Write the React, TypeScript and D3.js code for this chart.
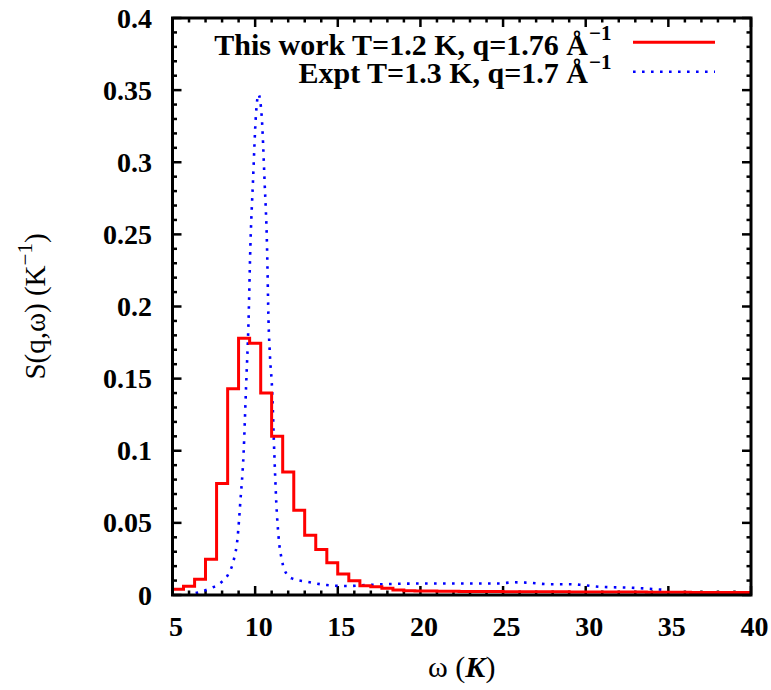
import React from "react";
import * as d3 from "d3";

// ---- data ----
const workOmega = [5.33, 6.0, 6.67, 7.33, 8.0, 8.67, 9.33, 10.0, 10.67, 11.33, 12.0, 12.67, 13.33, 14.0, 14.67, 15.33, 16.0, 16.67, 17.33, 18.0, 18.67, 19.33, 20.0, 20.67, 21.33, 22.0, 22.67, 23.33, 24.0, 24.67, 25.33, 26.0, 26.67, 27.33, 28.0, 28.67, 29.33, 30.0, 30.67, 31.33, 32.0, 32.67, 33.33, 34.0, 34.67, 35.33, 36.0, 36.67, 37.33, 38.0, 38.67, 39.33, 40.0];
const workS = [0.004, 0.006, 0.011, 0.0247, 0.0773, 0.143, 0.178, 0.1746, 0.14, 0.11, 0.0853, 0.0588, 0.0415, 0.0316, 0.0224, 0.0145, 0.0099, 0.0064, 0.0057, 0.0046, 0.0035, 0.003,
  0.0028, 0.0027, 0.0026, 0.0026, 0.0025, 0.0025, 0.0024, 0.0024, 0.0023, 0.0023, 0.0023, 0.0022, 0.0022, 0.0022, 0.0021, 0.0021, 0.0021, 0.002, 0.002, 0.002, 0.002, 0.0019, 0.0019, 0.0019, 0.0019, 0.0018, 0.0018, 0.0018, 0.0018, 0.0018, 0.0018];
const binWidth = 0.6667;

const exptOmega = [6.4, 6.7, 7.3, 7.9, 8.4, 8.7, 8.94, 9.1, 9.3, 9.45, 9.6, 9.71, 9.87, 10.05, 10.2, 10.39, 10.57, 10.72, 10.81, 10.9, 11.02, 11.16, 11.28, 11.42, 11.62, 11.88, 12.22, 13.13, 14.34, 15.54, 16.75, 18.76, 20.8, 22.8, 24.8, 25.6, 26.5, 27.8, 29.0, 29.8, 30.8, 32.8, 34.85];
const exptS = [0.0013, 0.0022, 0.0047, 0.0083, 0.015, 0.024, 0.04, 0.064, 0.098, 0.144, 0.19, 0.241, 0.287, 0.333, 0.347, 0.333, 0.287, 0.241, 0.19, 0.165, 0.144, 0.098, 0.064, 0.04, 0.024, 0.015, 0.0115, 0.0092, 0.0069, 0.0062, 0.0069, 0.0078, 0.008, 0.008, 0.008, 0.0088, 0.0085, 0.0075, 0.0075, 0.0069, 0.0057, 0.005, 0.0035];

const xTicks = [5, 10, 15, 20, 25, 30, 35, 40];
const yTicks = [0, 0.05, 0.1, 0.15, 0.2, 0.25, 0.3, 0.35, 0.4];
const yTickLabels = ["0", "0.05", "0.1", "0.15", "0.2", "0.25", "0.3", "0.35", "0.4"];
const legendLabels = ["This work T=1.2 K, q=1.76 Å", "Expt T=1.3 K, q=1.7 Å"];

const W = 771, H = 690;
const M = { left: 172.5, right: 751, top: 18, bottom: 595 };
const FONT = "'Liberation Serif', 'Times New Roman', Times, serif";
const DOTS = "2.6 6.4";

export default function App() {
  const x = d3.scaleLinear().domain([5, 40]).range([M.left, M.right]);
  const y = d3.scaleLinear().domain([0, 0.4]).range([M.bottom, M.top]);

  // histogram steps
  const stepPts: [number, number][] = workOmega.map((c, i) => [c - binWidth / 2, workS[i]]);
  stepPts.push([workOmega[workOmega.length - 1] + binWidth / 2, workS[workS.length - 1]]);
  const stepLine = d3.line<[number, number]>().x(d => x(d[0])).y(d => y(d[1])).curve(d3.curveStepAfter);

  const exptLine = d3.line<number>().x((_, i) => x(exptOmega[i])).y(d => y(d)).curve(d3.curveMonotoneX);

  const xMinor = d3.range(5, 40.001, 1);
  const yMinor = d3.range(0, 0.4001, 0.01);
  const majorLen = 9, minorLen = 4.5;

  return (
    <svg width={W} height={H} style={{ position: "absolute", left: 0, top: 0, background: "#fff" }} fontFamily={FONT}>
      <defs>
        <clipPath id="plotclip">
          <rect x={M.left} y={M.top} width={M.right - M.left} height={M.bottom - M.top} />
        </clipPath>
      </defs>
      <rect x={0} y={0} width={W} height={H} fill="#fff" />

      {/* ticks */}
      <g stroke="#000" strokeWidth={2.5}>
        {xMinor.map((v, i) => {
          const major = Math.abs(v % 5) < 1e-6;
          const len = major ? majorLen : minorLen;
          return (
            <g key={"xm" + i}>
              <line x1={x(v)} x2={x(v)} y1={M.bottom} y2={M.bottom - len} />
              <line x1={x(v)} x2={x(v)} y1={M.top} y2={M.top + len} />
            </g>
          );
        })}
        {yMinor.map((v, i) => {
          const major = i % 5 === 0;
          const len = major ? majorLen : minorLen;
          return (
            <g key={"ym" + i}>
              <line x1={M.left} x2={M.left + len} y1={y(v)} y2={y(v)} />
              <line x1={M.right} x2={M.right - len} y1={y(v)} y2={y(v)} />
            </g>
          );
        })}
      </g>

      {/* curves */}
      <g clipPath="url(#plotclip)">
        <path d={exptLine(exptS) || ""} fill="none" stroke="#0000ff" strokeWidth={2.6} strokeDasharray={DOTS} />
        <path d={stepLine(stepPts) || ""} fill="none" stroke="#ff0000" strokeWidth={3} />
      </g>

      {/* frame */}
      <rect x={M.left} y={M.top} width={M.right - M.left} height={M.bottom - M.top} fill="none" stroke="#000" strokeWidth={3} />

      {/* tick labels */}
      <g fontWeight="bold" fontSize={28} fill="#000">
        {xTicks.map(v => (
          <text key={"xl" + v} x={x(v) + 3.5} y={636} textAnchor="middle">{v}</text>
        ))}
        {yTicks.map((v, i) => (
          <text key={"yl" + v} x={152} y={y(v) + 9.5} textAnchor="end">{yTickLabels[i]}</text>
        ))}
      </g>

      {/* axis labels */}
      <text x={(M.left + M.right) / 2} y={677} textAnchor="middle" fontSize={30}>
        ω (<tspan fontWeight="bold" fontStyle="italic">K</tspan>)
      </text>
      <g transform={`translate(45, ${(M.top + M.bottom) / 2}) rotate(-90)`}>
        <text x={0} y={0} textAnchor="middle" fontSize={29}>
          S(q,ω) (K<tspan fontSize={21} dy={-13}>−1</tspan><tspan dy={13}>)</tspan>
        </text>
      </g>

      {/* legend */}
      <g fontWeight="bold" fontSize={30}>
        <text x={588} y={55} textAnchor="end">{legendLabels[0]}</text>
        <text x={589} y={40} fontSize={21}>−1</text>
        <line x1={633} x2={715} y1={42.3} y2={42.3} stroke="#ff0000" strokeWidth={3} />
        <text x={588} y={83} textAnchor="end">{legendLabels[1]}</text>
        <text x={589} y={69} fontSize={21}>−1</text>
        <line x1={633} x2={715} y1={71.7} y2={71.7} stroke="#0000ff" strokeWidth={2.6} strokeDasharray={DOTS} />
      </g>
    </svg>
  );
}
